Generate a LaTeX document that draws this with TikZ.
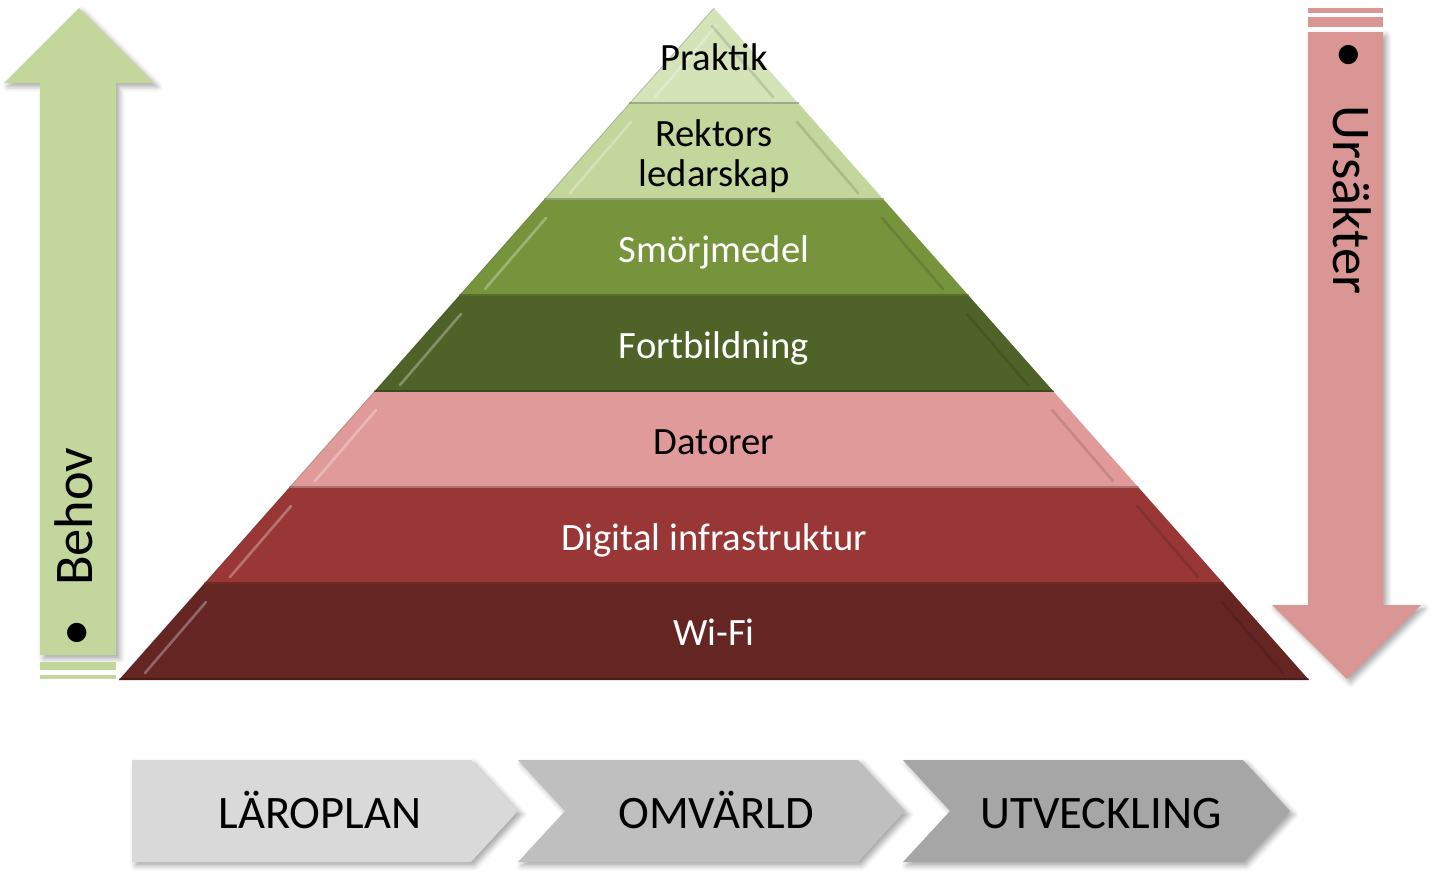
\documentclass[tikz,border=0pt]{standalone}
\usepackage{fontspec}
\setmainfont{Carlito}
\usetikzlibrary{shadows.blur}
% färger
\definecolor{lagerA}{HTML}{D4E3B8}
\definecolor{lagerB}{HTML}{C3D69B}
\definecolor{lagerC}{HTML}{77933C}
\definecolor{lagerD}{HTML}{4F6228}
\definecolor{lagerE}{HTML}{E09A99}
\definecolor{lagerF}{HTML}{983735}
\definecolor{lagerG}{HTML}{652523}
\definecolor{pilgron}{HTML}{C3D69B}
\definecolor{pilrosa}{HTML}{D99694}
\definecolor{stegA}{HTML}{D9D9D9}
\definecolor{stegB}{HTML}{BFBFBF}
\definecolor{stegC}{HTML}{A6A6A6}
\tikzset{
  skugga/.style={blur shadow={shadow xshift=2pt, shadow yshift=-2pt, shadow blur radius=3pt, shadow opacity=35}},
  pyrtext/.style={font=\fontsize{22}{22.7}\selectfont, align=center, anchor=base},
  stegtext/.style={font=\fontsize{26.5}{28}\selectfont, anchor=base},
  piltext/.style={font=\fontsize{31}{32}\selectfont, anchor=base west}
}
\begin{document}
\begin{tikzpicture}[x=0.02cm, y=-0.02cm]
        \useasboundingbox (0,0) rectangle (1435,873);
        % Vänster pil (uppåt)
        \fill[pilgron, skugga] (40,655) -- (40,83) -- (4,83) -- (79,8) -- (154,83) -- (116,83) -- (116,655) -- cycle;
        \fill[pilgron] (40,662) rectangle (116,670);
        \fill[pilgron] (40,675) rectangle (116,679);
        \node[piltext, rotate=90] (behov) at (92,653) {\textbullet\hspace{0.62em}Behov};
        % Höger pil (nedåt)
        \fill[pilrosa] (1308,8) rectangle (1383,13);
        \fill[pilrosa] (1308,17) rectangle (1383,27);
        \fill[pilrosa, skugga] (1308,32) -- (1308,605) -- (1272,605) -- (1347,679) -- (1421,605) -- (1383,605) -- (1383,32) -- cycle;
        \node[piltext, rotate=-90] (ursakter) at (1333,35) {\textbullet\hspace{0.68em}Ursäkter};
        % Pyramiden, lager för lager (i = 0 överst)
        \foreach \i/\fyll/\txt/\bas/\lbl in {0/lagerA/black/70/Praktik, 1/lagerB/black/186/{Rektors\\ledarskap},
            2/lagerC/white/262/Smörjmedel, 3/lagerD/white/358/Fortbildning, 4/lagerE/black/454/Datorer,
            5/lagerF/white/550/Digital infrastruktur, 6/lagerG/white/645/Wi-Fi}
        {
            \fill[\fyll] (714-85*\i,8+96*\i) -- (714+85*\i,8+96*\i) -- (799+85*\i,104+96*\i) -- (629-85*\i,104+96*\i) -- cycle;
            % fasad kant
            \draw[white, opacity=0.3, line width=1.5pt, line cap=round] (655-85*\i,97+96*\i) -- (716-85*\i,26+96*\i);
            \draw[black, opacity=0.12, line width=1.5pt, line cap=round] (773+85*\i,97+96*\i) -- (712+85*\i,26+96*\i);
            \draw[black, opacity=0.25, line width=0.8pt] (629-85*\i,103+96*\i) -- (799+85*\i,103+96*\i);
            \draw[black, opacity=0.2, line width=0.5pt] (714-85*\i,8+96*\i) -- (629-85*\i,104+96*\i);
            \node[pyrtext, text=\txt] (lager\i) at (714,\bas) {\lbl};
        }
        % Stegpilar längst ner
        \fill[stegA, skugga] (132,760) -- (471,760) -- (518,811) -- (471,862) -- (132,862) -- cycle;
        \fill[stegB, skugga] (518,760) -- (858,760) -- (905,811) -- (858,862) -- (518,862) -- (565,811) -- cycle;
        \fill[stegC, skugga] (903,760) -- (1243,760) -- (1290,811) -- (1243,862) -- (903,862) -- (950,811) -- cycle;
        \node[stegtext] (laroplan) at (320,828) {LÄROPLAN};
        \node[stegtext] (omvarld) at (716,828) {OMVÄRLD};
        \node[stegtext] (utveckling) at (1101,828) {UTVECKLING};
\end{tikzpicture}
\end{document}
